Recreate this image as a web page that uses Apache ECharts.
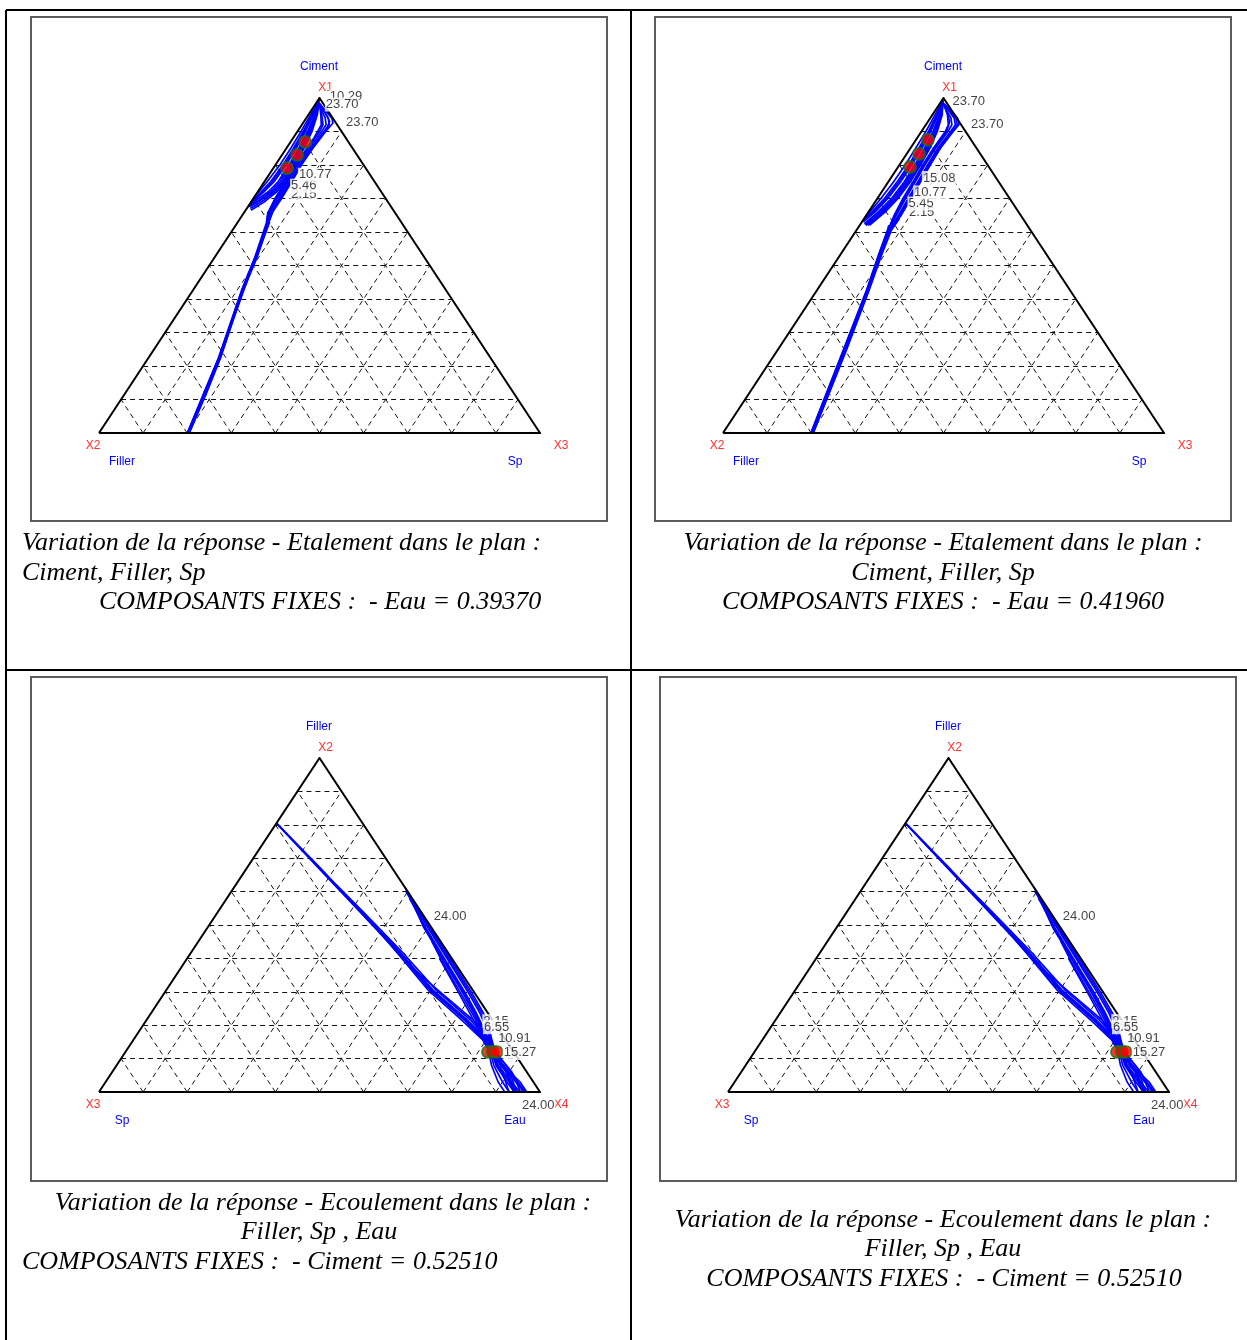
<!DOCTYPE html>
<html>
<head>
<meta charset="utf-8">
<title>Variation de la réponse</title>
<script src="https://cdn.jsdelivr.net/npm/echarts@6.0.0/dist/echarts.min.js"></script>
<style>
  html, body { margin: 0; padding: 0; background: #fff; }
  #c { width: 1247px; height: 1340px; }
</style>
</head>
<body>
<div id="c"></div>
<script>
// ---------------------------------------------------------------------------
// Mixture plans. Every point is a composition given by two fractions:
//   plans Ciment/Filler/Sp : [Ciment, Sp]   (Filler = 1 - Ciment - Sp)
//   plans Filler/Sp/Eau    : [Filler, Eau]  (Sp = 1 - Filler - Eau)
// ---------------------------------------------------------------------------

// Etalement, Eau fixed at 0.39370 : iso-response lines
const etal39370Lines = [
  [[0.995,0.002],[0.95,0.005],[0.90,0.008],[0.85,0.010],[0.80,0.010],[0.75,0.006],[0.70,0.0]],
  [[0.993,0.003],[0.95,0.008],[0.90,0.013],[0.85,0.016],[0.80,0.017],[0.75,0.014],[0.71,0.006],[0.69,0.0]],
  [[0.99,0.003],[0.95,0.0095],[0.90,0.0155],[0.85,0.019],[0.80,0.0205],[0.75,0.018],[0.715,0.01],[0.69,0.002]],
  [[0.99,0.004],[0.95,0.011],[0.90,0.018],[0.85,0.022],[0.80,0.024],[0.75,0.022],[0.72,0.014],[0.685,0.0]],
  [[0.988,0.005],[0.95,0.014],[0.90,0.023],[0.85,0.028],[0.80,0.031],[0.75,0.031],[0.72,0.024],[0.70,0.012],[0.68,0.0]],
  [[0.987,0.0055],[0.95,0.0155],[0.90,0.0255],[0.85,0.031],[0.80,0.0345],[0.75,0.0355],[0.72,0.029],[0.695,0.016],[0.675,0.0]],
  [[0.985,0.006],[0.95,0.017],[0.90,0.028],[0.85,0.034],[0.80,0.038],[0.75,0.040],[0.72,0.034],[0.70,0.022],[0.675,0.004]],
  [[0.984,0.0065],[0.95,0.0185],[0.90,0.0305],[0.85,0.037],[0.80,0.041],[0.75,0.0435],[0.72,0.0385],[0.695,0.026],[0.67,0.008]],
  [[0.983,0.007],[0.95,0.020],[0.90,0.033],[0.85,0.040],[0.80,0.044],[0.75,0.047],[0.72,0.043],[0.69,0.030],[0.665,0.012]],
  [[0.982,0.010],[0.96,0.035],[0.94,0.058],[0.925,0.068],[0.90,0.064],[0.85,0.060],[0.80,0.059],[0.75,0.062],[0.70,0.064],[0.66,0.064],[0.627,0.071],[0.525,0.095],[0.427,0.114],[0.227,0.162],[0,0.204]],
  [[0.983,0.009],[0.955,0.036],[0.93,0.058],[0.91,0.062],[0.85,0.058],[0.80,0.057],[0.75,0.060],[0.70,0.061],[0.66,0.063],[0.627,0.070]],
  [[0.982,0.009],[0.96,0.030],[0.94,0.050],[0.92,0.062],[0.90,0.060],[0.85,0.056],[0.80,0.055],[0.75,0.057],[0.70,0.058],[0.66,0.061],[0.627,0.070],[0.525,0.094],[0.427,0.113],[0.227,0.161],[0,0.203]],
  [[0.983,0.008],[0.96,0.026],[0.94,0.043],[0.92,0.055],[0.90,0.055],[0.85,0.052],[0.80,0.051],[0.75,0.053],[0.70,0.054],[0.66,0.058],[0.627,0.069],[0.525,0.093],[0.427,0.112],[0.227,0.160],[0,0.202]],
  [[0.984,0.008],[0.95,0.028],[0.92,0.044],[0.88,0.047],[0.80,0.0455],[0.75,0.048],[0.70,0.049],[0.66,0.054],[0.627,0.067]],
  [[0.984,0.008],[0.95,0.030],[0.92,0.048],[0.90,0.050],[0.85,0.048],[0.80,0.048],[0.75,0.050],[0.70,0.051],[0.66,0.056],[0.627,0.068],[0.525,0.092],[0.427,0.111],[0.227,0.159],[0,0.201]],
  [[0.63,0.072],[0.58,0.083],[0.525,0.096],[0.47,0.106],[0.427,0.115],[0.33,0.137],[0.227,0.163],[0.12,0.184],[0,0.205]],
  [[0.66,0.053],[0.627,0.066],[0.525,0.091],[0.427,0.110],[0.227,0.158],[0,0.200]]
];
const etal39370Optima = [[0.869,0.033],[0.830,0.034],[0.791,0.031]];
// [Ciment, Sp, level] where the level is written
const etal39370Labels = [
  [0.99,0.01,'10.29'], [0.975,0.02,'23.70'], [0.925,0.068,'23.70'],
  [0.72,0.035,'2.15'], [0.75,0.04,'5.46'], [0.78,0.045,'10.77']
];

// Etalement, Eau fixed at 0.41960
const etal41960Lines = [
  [[0.995,0.002],[0.95,0.006],[0.90,0.010],[0.85,0.012],[0.80,0.013],[0.75,0.012],[0.70,0.008],[0.66,0.003],[0.645,0.0]],
  [[0.993,0.003],[0.95,0.010],[0.90,0.016],[0.85,0.019],[0.80,0.021],[0.75,0.020],[0.70,0.016],[0.66,0.008],[0.635,0.0]],
  [[0.991,0.0035],[0.95,0.0115],[0.90,0.0185],[0.85,0.0225],[0.80,0.0245],[0.75,0.024],[0.70,0.020],[0.66,0.0115],[0.632,0.0]],
  [[0.99,0.004],[0.95,0.013],[0.90,0.021],[0.85,0.026],[0.80,0.028],[0.75,0.028],[0.70,0.024],[0.66,0.015],[0.63,0.003]],
  [[0.988,0.005],[0.95,0.016],[0.90,0.026],[0.85,0.032],[0.80,0.035],[0.75,0.036],[0.70,0.032],[0.66,0.022],[0.625,0.008]],
  [[0.987,0.0055],[0.95,0.0175],[0.90,0.0285],[0.85,0.035],[0.80,0.0385],[0.75,0.0395],[0.70,0.036],[0.66,0.026],[0.622,0.011]],
  [[0.985,0.006],[0.95,0.019],[0.90,0.031],[0.85,0.038],[0.80,0.042],[0.75,0.043],[0.70,0.040],[0.66,0.030],[0.62,0.014]],
  [[0.984,0.0065],[0.95,0.0205],[0.90,0.0335],[0.85,0.041],[0.80,0.045],[0.75,0.0465],[0.70,0.0435],[0.66,0.034],[0.62,0.018]],
  [[0.983,0.007],[0.95,0.022],[0.90,0.036],[0.85,0.044],[0.80,0.048],[0.75,0.050],[0.70,0.047],[0.66,0.038],[0.62,0.022]],
  [[0.982,0.011],[0.96,0.038],[0.94,0.062],[0.92,0.075],[0.90,0.072],[0.85,0.068],[0.80,0.070],[0.75,0.073],[0.70,0.076],[0.65,0.079],[0.606,0.077],[0.531,0.092],[0.427,0.117],[0.248,0.154],[0,0.204]],
  [[0.982,0.0105],[0.96,0.0355],[0.94,0.058],[0.92,0.071],[0.90,0.069],[0.85,0.065],[0.80,0.067],[0.75,0.070],[0.70,0.073],[0.65,0.076],[0.606,0.076]],
  [[0.982,0.010],[0.96,0.033],[0.94,0.054],[0.92,0.067],[0.90,0.066],[0.85,0.062],[0.80,0.064],[0.75,0.067],[0.70,0.070],[0.65,0.073],[0.606,0.075],[0.531,0.091],[0.427,0.116],[0.248,0.153],[0,0.203]],
  [[0.983,0.009],[0.96,0.028],[0.94,0.047],[0.92,0.059],[0.90,0.060],[0.85,0.057],[0.80,0.058],[0.75,0.061],[0.70,0.064],[0.65,0.068],[0.606,0.073],[0.531,0.089],[0.427,0.114],[0.248,0.151],[0,0.201]],
  [[0.9835,0.0085],[0.955,0.031],[0.93,0.049],[0.90,0.057],[0.85,0.0545],[0.80,0.0555],[0.75,0.0585],[0.70,0.061],[0.65,0.0655],[0.606,0.072]],
  [[0.984,0.008],[0.95,0.034],[0.92,0.051],[0.90,0.054],[0.85,0.052],[0.80,0.053],[0.75,0.056],[0.70,0.058],[0.65,0.063],[0.606,0.071],[0.531,0.088],[0.427,0.113],[0.248,0.150],[0,0.200]],
  [[0.62,0.066],[0.606,0.070],[0.531,0.087],[0.427,0.112],[0.248,0.149],[0,0.199]],
  [[0.64,0.080],[0.606,0.079],[0.531,0.094],[0.427,0.118],[0.248,0.156],[0,0.205]]
];
const etal41960Optima = [[0.875,0.027],[0.833,0.028],[0.794,0.027]];
const etal41960Labels = [
  [0.985,0.012,'23.70'], [0.92,0.075,'23.70'],
  [0.68,0.05,'2.15'], [0.70,0.05,'5.45'], [0.73,0.05,'10.77'], [0.77,0.05,'15.08']
];

// Ecoulement, Ciment fixed at 0.52510 : [Filler, Eau]
const ecoul52510Lines = [
  [[0.805,0.0],[0.671,0.166],[0.545,0.319],[0.419,0.473],[0.305,0.605],[0.216,0.727],[0.156,0.802],[0.12,0.833],[0.06,0.90],[0,0.948]],
  [[0.804,0.001],[0.671,0.164],[0.545,0.317],[0.419,0.470],[0.305,0.602],[0.216,0.723],[0.156,0.799],[0.12,0.831],[0.06,0.896],[0,0.944]],
  [[0.803,0.002],[0.671,0.162],[0.545,0.315],[0.419,0.468],[0.305,0.599],[0.216,0.72],[0.156,0.796],[0.12,0.829],[0.06,0.893],[0,0.94]],
  [[0.62,0.228],[0.545,0.322],[0.419,0.478],[0.305,0.612],[0.216,0.734],[0.156,0.806],[0.12,0.838],[0.06,0.906],[0,0.956]],
  [[0.48,0.395],[0.419,0.465],[0.305,0.594],[0.216,0.714],[0.156,0.792],[0.12,0.826],[0.06,0.884],[0,0.93]],
  [[0.36,0.54],[0.305,0.616],[0.216,0.74],[0.156,0.81],[0.12,0.84],[0.05,0.915],[0,0.962]],
  [[0.61,0.39],[0.55,0.448],[0.494,0.503],[0.395,0.601],[0.296,0.698],[0.237,0.753],[0.195,0.787],[0.16,0.81],[0.126,0.834],[0.08,0.875],[0.03,0.94],[0,0.97]],
  [[0.605,0.394],[0.55,0.446],[0.494,0.5],[0.395,0.597],[0.296,0.694],[0.237,0.749],[0.195,0.784],[0.16,0.808],[0.126,0.833],[0.08,0.872],[0.03,0.935],[0,0.967]],
  [[0.60,0.396],[0.55,0.444],[0.494,0.498],[0.395,0.594],[0.296,0.69],[0.237,0.745],[0.195,0.78],[0.16,0.806],[0.126,0.832],[0.08,0.87],[0.03,0.93],[0,0.965]],
  [[0.58,0.414],[0.494,0.493],[0.395,0.588],[0.296,0.683],[0.237,0.737],[0.195,0.773],[0.16,0.802],[0.126,0.83],[0.08,0.865],[0.03,0.92],[0,0.955]],
  [[0.56,0.433],[0.494,0.491],[0.395,0.585],[0.296,0.68],[0.237,0.734],[0.195,0.77],[0.16,0.8],[0.126,0.828],[0.08,0.862],[0.03,0.915],[0,0.948]],
  [[0.55,0.442],[0.494,0.489],[0.395,0.583],[0.296,0.677],[0.237,0.731],[0.195,0.768],[0.16,0.798],[0.126,0.827],[0.08,0.86],[0.03,0.91],[0,0.942]],
  [[0.45,0.53],[0.395,0.579],[0.296,0.672],[0.237,0.727],[0.195,0.765],[0.16,0.795],[0.126,0.824],[0.08,0.855],[0.03,0.9],[0,0.93]],
  [[0.40,0.572],[0.296,0.668],[0.237,0.722],[0.195,0.76],[0.16,0.79],[0.126,0.82],[0.08,0.85],[0.03,0.89],[0,0.92]]
];
const ecoul52510Optima = [[0.12,0.822],[0.12,0.833],[0.12,0.842]];
const ecoul52510Labels = [
  [0.527,0.473,'24.00'], [0.23,0.745,'2.15'], [0.20,0.775,'6.55'],
  [0.16,0.80,'10.91'], [0.12,0.835,'15.27'], [0,1,'24.00']
];

// Text offsets (px) of the level labels, in the same order as the label lists
const shiftEtal1 = [[7,-5],[2,-2],[12,-1],[17,3],[8,4],[7,3]];
const shiftEtal2 = [[6,-2],[11,0],[13,7],[8,5],[7,4],[7,3]];
const shiftEcoul = [[9,0],[4,6],[-2,2],[10,0],[9,1],[-19,13]];

const FONT_SANS = '"Liberation Sans", Arial, sans-serif';
const FONT_SERIF = '"Liberation Serif", "Times New Roman", serif';

// composition [top, right] -> cartesian position inside the triangle frame
function toXY(p) { return [p[1] + p[0] / 2, p[0]]; }

function gridSegments() {
  const segs = [];
  for (let i = 1; i < 10; i++) {
    const t = i / 10;
    segs.push({ coords: [toXY([t, 0]), toXY([t, 1 - t])] });
    segs.push({ coords: [toXY([0, 1 - t]), toXY([1 - t, 0])] });
    segs.push({ coords: [toXY([0, t]), toXY([1 - t, t])] });
  }
  return segs;
}

const panels = [
  { tri: { left: 99, top: 98, width: 441, height: 335 }, box: [31, 17, 576, 504],
    lines: etal39370Lines, optima: etal39370Optima, labels: etal39370Labels, shifts: shiftEtal1,
    names: ['Ciment', 'X1', 'Filler', 'X2', 'Sp', 'X3'],
    captions: [
      { text: 'Variation de la réponse - Etalement dans le plan :', x: 22, y: 543, align: 'left' },
      { text: 'Ciment, Filler, Sp', x: 22, y: 573, align: 'left' },
      { text: 'COMPOSANTS FIXES :  - Eau = 0.39370', x: 99, y: 602, align: 'left' }
    ] },
  { tri: { left: 723, top: 98, width: 441, height: 335 }, box: [655, 17, 576, 504],
    lines: etal41960Lines, optima: etal41960Optima, labels: etal41960Labels, shifts: shiftEtal2,
    names: ['Ciment', 'X1', 'Filler', 'X2', 'Sp', 'X3'],
    captions: [
      { text: 'Variation de la réponse - Etalement dans le plan :', x: 943, y: 543, align: 'center' },
      { text: 'Ciment, Filler, Sp', x: 943, y: 573, align: 'center' },
      { text: 'COMPOSANTS FIXES :  - Eau = 0.41960', x: 943, y: 602, align: 'center' }
    ] },
  { tri: { left: 99, top: 758, width: 441, height: 334 }, box: [31, 677, 576, 504],
    lines: ecoul52510Lines, optima: ecoul52510Optima, labels: ecoul52510Labels, shifts: shiftEcoul,
    names: ['Filler', 'X2', 'Sp', 'X3', 'Eau', 'X4'],
    captions: [
      { text: 'Variation de la réponse - Ecoulement dans le plan :', x: 323, y: 1203, align: 'center' },
      { text: 'Filler, Sp , Eau', x: 319, y: 1232, align: 'center' },
      { text: 'COMPOSANTS FIXES :  - Ciment = 0.52510', x: 22, y: 1262, align: 'left' }
    ] },
  { tri: { left: 728, top: 758, width: 441, height: 334 }, box: [660, 677, 576, 504],
    lines: ecoul52510Lines, optima: ecoul52510Optima, labels: ecoul52510Labels, shifts: shiftEcoul,
    names: ['Filler', 'X2', 'Sp', 'X3', 'Eau', 'X4'],
    captions: [
      { text: 'Variation de la réponse - Ecoulement dans le plan :', x: 943, y: 1220, align: 'center' },
      { text: 'Filler, Sp , Eau', x: 943, y: 1249, align: 'center' },
      { text: 'COMPOSANTS FIXES :  - Ciment = 0.52510', x: 944, y: 1279, align: 'center' }
    ] }
];

const grid = [], xAxis = [], yAxis = [], series = [], graphic = [];

// table rules
[[6, 10, 1247, 10], [6, 670, 1247, 670], [6, 10, 6, 1340], [631, 10, 631, 1340]].forEach(l => {
  graphic.push({ type: 'line', z: 1, shape: { x1: l[0], y1: l[1], x2: l[2], y2: l[3] },
    style: { stroke: '#000', lineWidth: 2 } });
});

function vtext(x, y, text, color, size) {
  return { type: 'text', x: x, y: y, z: 1,
    style: { text: text, fill: color, fontSize: size, fontFamily: FONT_SANS,
             align: 'center', verticalAlign: 'middle' } };
}

panels.forEach((p, i) => {
  const t = p.tri;
  grid.push({ left: t.left, top: t.top, width: t.width, height: t.height, containLabel: false });
  xAxis.push({ gridIndex: i, type: 'value', min: 0, max: 1, show: false });
  yAxis.push({ gridIndex: i, type: 'value', min: 0, max: 1, show: false });

  // frame of the panel
  graphic.push({ type: 'rect', z: 1, shape: { x: p.box[0], y: p.box[1], width: p.box[2], height: p.box[3] },
    style: { fill: 'none', stroke: '#5c5c5c', lineWidth: 2 } });

  // vertex names
  const top = [t.left + t.width / 2, t.top];
  const lft = [t.left, t.top + t.height];
  const rgt = [t.left + t.width, t.top + t.height];
  graphic.push(vtext(top[0] - 0.5, top[1] - 31, p.names[0], '#0000ff', 12));
  graphic.push(vtext(top[0] + 6, top[1] - 10, p.names[1], '#ff3030', 12));
  graphic.push(vtext(lft[0] + 23, lft[1] + 29, p.names[2], '#0000ff', 12));
  graphic.push(vtext(lft[0] - 6, lft[1] + 13, p.names[3], '#ff3030', 12));
  graphic.push(vtext(rgt[0] - 25, rgt[1] + 29, p.names[4], '#0000ff', 12));
  graphic.push(vtext(rgt[0] + 21, rgt[1] + 13, p.names[5], '#ff3030', 12));

  // captions
  p.captions.forEach(c => {
    graphic.push({ type: 'text', x: c.x, y: c.y, z: 1,
      style: { text: c.text, fill: '#000', fontSize: 26, fontStyle: 'italic', fontFamily: FONT_SERIF,
               align: c.align, verticalAlign: 'middle' } });
  });

  const axes = { xAxisIndex: i, yAxisIndex: i, coordinateSystem: 'cartesian2d', silent: true };

  series.push(Object.assign({ type: 'lines', z: 2, data: gridSegments(),
    lineStyle: { color: '#111', width: 1, type: [5, 4], opacity: 1 } }, axes));

  series.push(Object.assign({ type: 'lines', polyline: true, z: 3,
    data: p.lines.map(l => ({ coords: l.map(toXY) })),
    lineStyle: { color: '#0000ff', width: 1.7, opacity: 1 } }, axes));

  series.push(Object.assign({ type: 'lines', polyline: true, z: 4,
    data: [{ coords: [toXY([0, 0]), toXY([0, 1]), toXY([1, 0]), toXY([0, 0])] }],
    lineStyle: { color: '#000', width: 2, opacity: 1 } }, axes));

  series.push(Object.assign({ type: 'scatter', z: 5, symbol: 'circle', symbolSize: 12,
    data: p.optima.map(toXY),
    itemStyle: { color: '#ff0000', borderColor: '#0b7d0b', borderWidth: 1.8 } }, axes));

  series.push(Object.assign({ type: 'scatter', z: 6, symbolSize: 0.1,
    itemStyle: { color: 'rgba(0,0,0,0)' },
    data: p.labels.map((l, k) => ({
      value: toXY(l).concat([l[2]]),
      label: { offset: p.shifts[k] }
    })),
    label: { show: true, position: 'right', distance: 0,
      formatter: d => d.value[2], color: '#111', fontSize: 13, fontFamily: FONT_SANS,
      backgroundColor: '#fff', padding: [0, 1], lineHeight: 14 } }, axes));
});

const chart = echarts.init(document.getElementById('c'), null, { renderer: 'canvas', width: 1247, height: 1340 });
chart.setOption({
  animation: false,
  backgroundColor: '#fff',
  grid: grid,
  xAxis: xAxis,
  yAxis: yAxis,
  series: series,
  graphic: graphic
});
</script>
</body>
</html>
